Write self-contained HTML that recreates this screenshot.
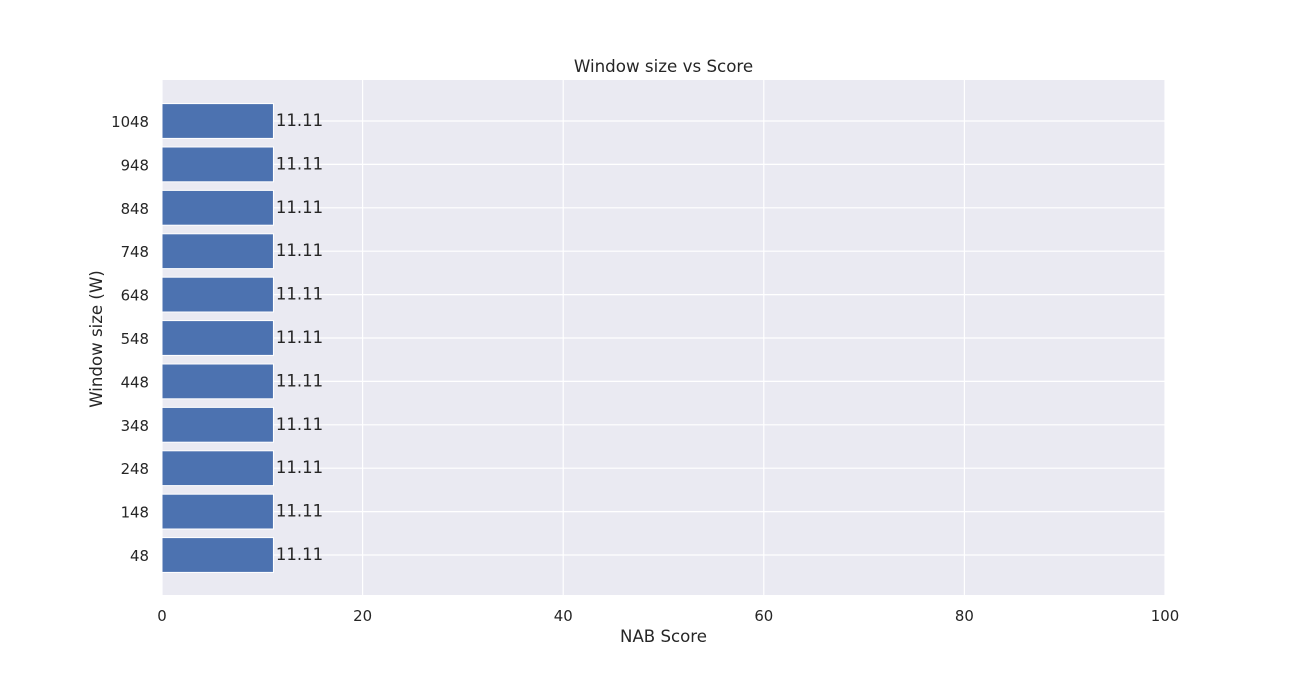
<!DOCTYPE html>
<html><head><meta charset="utf-8"><style>
body{margin:0;background:#fff;}
svg text{font-family:"DejaVu Sans","Liberation Sans",sans-serif;fill:#262626;}
</style></head><body>
<svg id="chart" width="1296" height="670">
<rect x="162" y="80" width="1003" height="515" fill="#eaeaf2"/>
<g id="grid"></g><g id="bars"></g><g id="labels"></g><g id="ticks"></g>
<text x="663.5" y="72" text-anchor="middle" font-size="16.7">Window size vs Score</text>
<text x="663.5" y="642" text-anchor="middle" font-size="16.6">NAB Score</text>
<text transform="translate(102,339) rotate(-90)" text-anchor="middle" font-size="16.6">Window size (W)</text>
</svg>
<script>
const categories=["48","148","248","348","448","548","648","748","848","948","1048"];
const scores=[11.11,11.11,11.11,11.11,11.11,11.11,11.11,11.11,11.11,11.11,11.11];
const xTicks=[0,20,40,60,80,100];
const NS="http://www.w3.org/2000/svg";
const x=v=>162+v*(1003/100);
const step=43.4;
const y=i=>555-i*step;
function mk(tag,attrs,parent,text){const e=document.createElementNS(NS,tag);for(const k in attrs)e.setAttribute(k,attrs[k]);if(text!==undefined)e.textContent=text;document.getElementById(parent).appendChild(e);return e;}
xTicks.forEach(t=>{
  const g=mk('line',{x1:x(t),x2:x(t),y1:80,y2:595,stroke:'#fff','stroke-width':1.2},'grid');
  
  
  const l=mk('text',{x:x(t),y:621,'text-anchor':'middle','font-size':14.9},'ticks',String(t));
  
  
});
categories.forEach((c,i)=>{
  const g=mk('line',{x1:162,x2:1165,y1:y(i),y2:y(i),stroke:'#fff','stroke-width':1.2},'grid');
  
  
  const b=mk('rect',{x:x(0),y:y(i)-17.4,width:x(scores[i])-x(0),height:34.8,fill:'#4c72b0',stroke:'#fff','stroke-width':1},'bars');
  
  
  const v=mk('text',{x:x(scores[i])+2.5,y:y(i)+5,'font-size':16.5},'labels',scores[i].toFixed(2));
  
  
  const t=mk('text',{x:149,y:y(i)+6,'text-anchor':'end','font-size':14.9},'ticks',c);
  
  
});
</script>
</body></html>
